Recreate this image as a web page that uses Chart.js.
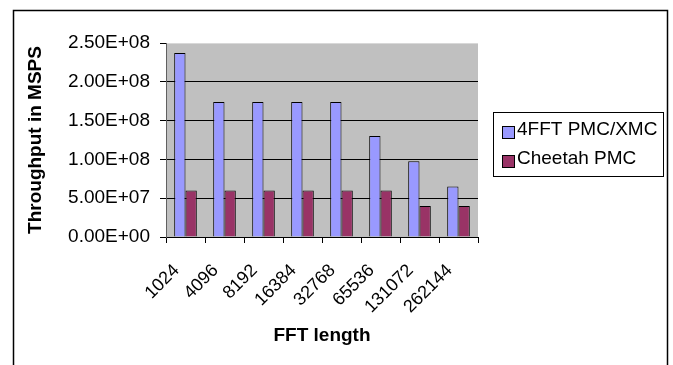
<!DOCTYPE html>
<html>
<head>
<meta charset="utf-8">
<script src="https://cdn.jsdelivr.net/npm/chart.js@4.4.1/dist/chart.umd.min.js"></script>
<style>
  html, body { margin: 0; padding: 0; background: #fff; }
</style>
</head>
<body>
<canvas id="fftChart" width="673" height="365"></canvas>
<script>
// --- data ---
const fftLengths = ['1024', '4096', '8192', '16384', '32768', '65536', '131072', '262144'];
const fft4PmcXmc = [2.37e8, 1.74e8, 1.74e8, 1.74e8, 1.74e8, 1.30e8, 0.975e8, 0.65e8];
const cheetahPmc = [6.0e7, 6.0e7, 6.0e7, 6.0e7, 6.0e7, 6.0e7, 4.0e7, 4.0e7];
const yTickLabels = ['0.00E+00', '5.00E+07', '1.00E+08', '1.50E+08', '2.00E+08', '2.50E+08'];
const seriesNames = ['4FFT PMC/XMC', 'Cheetah PMC'];

const FONT = 'Arial, "Liberation Sans", sans-serif';

// grey plot area + outer frame
const frame = {
    id: 'frame',
    beforeDraw(chart) {
        const { ctx, chartArea: a } = chart;
        ctx.save();
        ctx.fillStyle = '#fff';
        ctx.fillRect(0, 0, chart.width, chart.height);
        ctx.fillStyle = '#c0c0c0';
        ctx.fillRect(a.left, a.top, a.right - a.left, a.bottom - a.top);
        ctx.strokeStyle = '#000';
        ctx.lineWidth = 1.5;
        ctx.strokeRect(13.5, 10.5, 654, 380);
        ctx.restore();
    }
};

// excel style boxed legend
const boxLegend = {
    id: 'boxLegend',
    afterDraw(chart) {
        const { ctx } = chart;
        ctx.save();
        ctx.strokeStyle = '#000';
        ctx.lineWidth = 1;
        ctx.strokeRect(493.5, 112.5, 170, 64);
        ctx.font = '19px ' + FONT;
        ctx.textBaseline = 'middle';
        chart.data.datasets.forEach((ds, i) => {
            const y = 130 + i * 29;
            ctx.fillStyle = ds.backgroundColor;
            ctx.fillRect(502.5, y - 3.5, 12, 12);
            ctx.strokeRect(502.5, y - 3.5, 12, 12);
            ctx.fillStyle = '#000';
            ctx.fillText(ds.label, 517, y);
        });
        ctx.restore();
    }
};

new Chart(document.getElementById('fftChart'), {
    type: 'bar',
    data: {
        labels: fftLengths,
        datasets: [
            { label: seriesNames[0], data: fft4PmcXmc, backgroundColor: '#9999ff', borderColor: '#000', borderWidth: 1 },
            { label: seriesNames[1], data: cheetahPmc, backgroundColor: '#993366', borderColor: '#000', borderWidth: 1 }
        ]
    },
    options: {
        responsive: false,
        animation: false,
        categoryPercentage: 0.58,
        barPercentage: 1,
        layout: { padding: { left: 24, top: 43, right: 195, bottom: 18 } },
        plugins: { legend: { display: false }, tooltip: { enabled: false } },
        scales: {
            x: {
                afterFit: s => { s.height = 110; },
                grid: { drawOnChartArea: false, tickLength: 6, color: '#000', offset: true },
                border: { color: '#000' },
                ticks: {
                    minRotation: 45, maxRotation: 45, labelOffset: -9, padding: 17,
                    color: '#000', font: { family: FONT, size: 18 }
                },
                title: {
                    display: true, text: 'FFT length', color: '#000',
                    font: { family: FONT, size: 19, weight: 'bold' }, padding: 0
                }
            },
            y: {
                min: 0, max: 2.5e8,
                afterFit: s => { s.width = 142; },
                grid: {
                    color: ctx => ctx.index === 5 ? '#d8d8d8' : '#000',
                    tickColor: '#000', tickLength: 6
                },
                border: { color: '#606060' },
                ticks: {
                    stepSize: 5e7, padding: 10, color: '#000',
                    font: { family: FONT, size: 19 },
                    callback: (v, i) => yTickLabels[i]
                },
                title: {
                    display: true, text: 'Throughput in MSPS', color: '#000',
                    font: { family: FONT, size: 19, weight: 'bold' }, padding: 0
                }
            }
        }
    },
    plugins: [frame, boxLegend]
});
</script>
</body>
</html>
